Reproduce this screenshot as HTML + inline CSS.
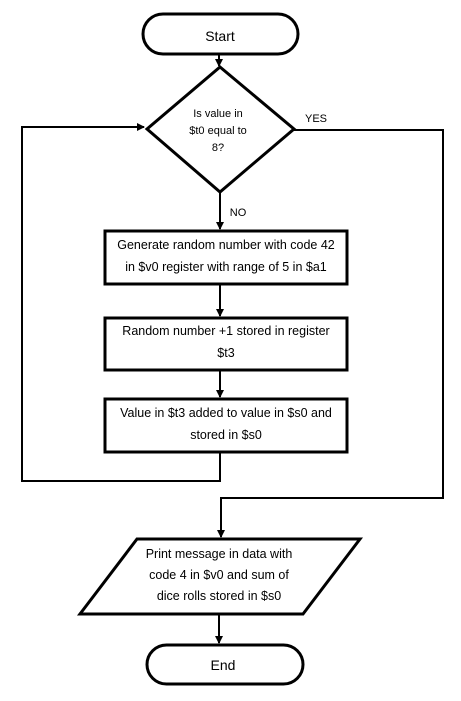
<!DOCTYPE html>
<html><head><style>body{margin:0;background:#fff}svg{display:block}text{font-family:"Liberation Sans",sans-serif;fill:#000}</style></head><body>
<svg width="461" height="701" viewBox="0 0 461 701">
<defs><marker id="a" markerWidth="8" markerHeight="8" refX="7" refY="4" orient="auto" markerUnits="userSpaceOnUse"><path d="M0,0 L8,4 L0,8 z" fill="#000"/></marker></defs>
<g fill="none" stroke="#000" stroke-width="3">
<rect x="143" y="14" width="155" height="40" rx="20"/>
<polygon points="220,67 294,129 220,192 147,129"/>
<rect x="105" y="231" width="242" height="53"/>
<rect x="105" y="318" width="242" height="52"/>
<rect x="105" y="399" width="242" height="53"/>
<polygon points="137,539 360,539 303,614 80,614"/>
<rect x="147" y="645" width="156" height="39" rx="19.5"/>
</g>
<g fill="none" stroke="#000" stroke-width="2">
<line x1="219" y1="55" x2="219" y2="66" marker-end="url(#a)"/>
<line x1="220" y1="192" x2="220" y2="229" marker-end="url(#a)"/>
<line x1="220" y1="285" x2="220" y2="316" marker-end="url(#a)"/>
<line x1="220" y1="371" x2="220" y2="397" marker-end="url(#a)"/>
<polyline points="220,453 220,481 22,481 22,127 144,127" marker-end="url(#a)"/>
<polyline points="294,130 443,130 443,498 221,498 221,537" marker-end="url(#a)"/>
<line x1="219" y1="615" x2="219" y2="643" marker-end="url(#a)"/>
</g>
<g font-size="14" text-anchor="middle">
<text x="220" y="41">Start</text>
<text x="223" y="670">End</text>
</g>
<g font-size="11" text-anchor="middle">
<text x="218" y="117">Is value in</text>
<text x="218" y="134">$t0 equal to</text>
<text x="218" y="151">8?</text>
<text x="316" y="122">YES</text>
<text x="238" y="216">NO</text>
</g>
<g font-size="12.5" text-anchor="middle">
<text x="226" y="249">Generate random number with code 42</text>
<text x="226" y="271">in $v0 register with range of 5 in $a1</text>
<text x="226" y="335">Random number +1 stored in register</text>
<text x="226" y="357">$t3</text>
<text x="226" y="417">Value in $t3 added to value in $s0 and</text>
<text x="226" y="439">stored in $s0</text>
<text x="219" y="558">Print message in data with</text>
<text x="219" y="579">code 4 in $v0 and sum of</text>
<text x="219" y="600">dice rolls stored in $s0</text>
</g>
</svg>
</body></html>
